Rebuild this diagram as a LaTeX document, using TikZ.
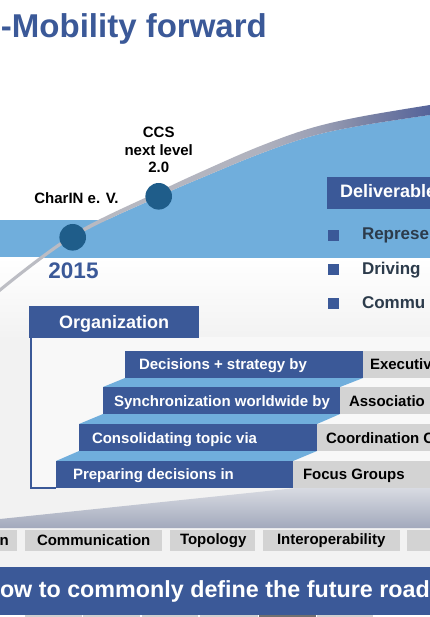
\documentclass[tikz,border=0pt]{standalone}
\usepackage{fontspec}
\setmainfont{Liberation Sans}
\definecolor{dblue}{HTML}{3B5998}
\definecolor{lblue}{HTML}{70AEDC}
\definecolor{dotblue}{HTML}{1F5D8A}
\definecolor{greybox}{HTML}{D3D3D3}
\definecolor{bggrey}{HTML}{F2F2F2}
\definecolor{framefill}{HTML}{F8F8F8}
\definecolor{slate}{HTML}{2C3B4B}
\definecolor{swA}{HTML}{BDBEC4}
\definecolor{swB}{HTML}{B0B2BE}
\definecolor{swC}{HTML}{9A9FB4}
\definecolor{swD}{HTML}{7E86A6}
\definecolor{swE}{HTML}{55639A}
\definecolor{wedgeA}{HTML}{EBECEF}
\definecolor{wedgeB}{HTML}{A2A9BC}
\definecolor{stripA}{HTML}{D0D0D0}
\definecolor{stripB}{HTML}{707070}
\pgfdeclarehorizontalshading{swoosh}{100bp}{color(0bp)=(swA); color(25bp)=(swA); color(55bp)=(swB); color(62bp)=(swC); color(67bp)=(swD); color(75bp)=(swE); color(100bp)=(swE)}
\begin{document}
\begin{tikzpicture}[x=1pt,y=-1pt,
  txt/.style={inner sep=0pt, outer sep=0pt, anchor=base west, font=\bfseries\fontsize{15}{18}\selectfont},
  wtxt/.style={txt, text=white},
  btxt/.style={txt, text=black},
  bigtxt/.style={txt, font=\bfseries\fontsize{17}{20}\selectfont},
  dotnode/.style={circle, fill=dotblue, inner sep=0pt, minimum size=26.6pt},
  bulletsq/.style={fill=dblue, inner sep=0pt, minimum size=11pt, anchor=center}]
\useasboundingbox (0,0) rectangle (430,617);
% background
\fill[white] (0,0) rectangle (430,257);
\shade[top color=white, bottom color=bggrey] (0,257) rectangle (430,340);
\fill[bggrey] (0,340) rectangle (430,567);
% light blue band and area under the curve
\fill[lblue] (0,220) rectangle (430,257);
\begin{scope}
\clip (0,0) rectangle (430,257);
\fill[lblue] plot[smooth, tension=0.6] coordinates {(0,292) (72.7,238) (158.7,196.5) (210,174.3) (260,153.8) (310,136.6) (360,125.8) (430,115)} -- (430,300) -- (0,300) -- cycle;
\end{scope}
% swoosh
\shade[shading=swoosh] plot[smooth, tension=0.6] coordinates {(0,288) (72.7,234) (158.7,191.5) (210,167.8) (260,146.2) (310,128.4) (360,116.8) (430,105)}
  -- plot[smooth, tension=0.6] coordinates {(430,115) (360,125.8) (310,136.6) (260,153.8) (210,174.3) (158.7,196.5) (72.7,238) (0,292)} -- cycle;
% title
\node[txt, text=dblue, font=\bfseries\fontsize{33}{38}\selectfont] (title) at (1,38) {-Mobility forward};
% milestones
\node[dotnode] (d1) at (72.7,237.3) {};
\node[dotnode] (d2) at (158.7,196.3) {};
\node[txt, anchor=base] (charin) at (76.5,204) {CharIN e. V.};
\node[txt, anchor=base] (ccs1) at (158.7,138) {CCS};
\node[txt, anchor=base] (ccs2) at (158.7,156) {next level};
\node[txt, anchor=base] (ccs3) at (158.7,173) {2.0};
\node[txt, anchor=base, text=dblue, font=\bfseries\fontsize{22.5}{26}\selectfont] (year) at (73.5,278) {2015};
% deliverables
\fill[dblue] (327,177) rectangle (431,209);
\node[bigtxt, text=white, font=\bfseries\fontsize{18}{20}\selectfont] (deliv) at (340,198) {Deliverable};
\node[bulletsq] (b1) at (333.5,235.5) {};
\node[bulletsq] (b2) at (333.5,269.5) {};
\node[bulletsq] (b3) at (333.5,303.5) {};
\node[bigtxt, text=slate] (t1) at (362,240) {Represe};
\node[bigtxt, text=slate] (t2) at (362,274) {Driving};
\node[bigtxt, text=slate] (t3) at (362,308) {Commu};
% wedge above tabs
\shade[top color=wedgeA, bottom color=wedgeB] (0,519) -- (430,474) -- (430,528) -- (0,528) -- cycle;
% organization frame
\fill[framefill] (31,337) rectangle (430,488);
\draw[dblue, line width=1.2pt] (31,337) -- (31,488) -- (56,488);
\fill[dblue] (29,306) rectangle (199,338);
\node[txt, text=white, font=\bfseries\fontsize{18}{20}\selectfont] (org) at (59,328) {Organization};
% steps
\fill[lblue] (125,378) -- (363,378) -- (340,387) -- (103,387) -- cycle;
\fill[lblue] (103,414) -- (340,414) -- (317,424) -- (79,424) -- cycle;
\fill[lblue] (79,451) -- (317,451) -- (293,461) -- (56,461) -- cycle;
\fill[dblue] (125,351) rectangle (363,378);
\fill[greybox] (363,351) rectangle (431,378);
\fill[dblue] (103,387) rectangle (340,414);
\fill[greybox] (340,387) rectangle (431,414);
\fill[dblue] (79,424) rectangle (317,451);
\fill[greybox] (317,424) rectangle (431,451);
\fill[dblue] (56,461) rectangle (293,488);
\fill[greybox] (293,461) rectangle (431,488);
\node[wtxt] (s1) at (139,369) {Decisions + strategy by};
\node[btxt] (g1) at (370,369) {Executiv};
\node[wtxt] (s2) at (114,406) {Synchronization worldwide by};
\node[btxt] (g2) at (349,406) {Associatio};
\node[wtxt] (s3) at (92,443) {Consolidating topic via};
\node[btxt] (g3) at (326,443) {Coordination C};
\node[wtxt] (s4) at (73,479) {Preparing decisions in};
\node[btxt] (g4) at (303,479) {Focus Groups};
% tabs
\fill[greybox] (-1,530) rectangle (17,551);
\fill[greybox] (25,530) rectangle (162,551);
\fill[greybox] (170,530) rectangle (255,551);
\fill[greybox] (263,530) rectangle (400,551);
\fill[greybox] (407,530) rectangle (431,551);
\node[btxt] (tab1) at (-0.5,545) {n};
\node[btxt] (tab2) at (37,545.5) {Communication};
\node[btxt] (tab3) at (180,544) {Topology};
\node[btxt] (tab4) at (277,544.5) {Interoperability};
% banner
\fill[dblue] (0,567) rectangle (430,615);
\node[txt, text=white, font=\bfseries\fontsize{23.3}{26}\selectfont] (banner) at (0,597) {ow to commonly define the future road};
% bottom strip
\fill[white] (0,615) rectangle (430,617);
\fill[stripA] (25,615) rectangle (82,617);
\fill[stripA] (83,615) rectangle (140,617);
\fill[stripA] (142,615) rectangle (198,617);
\fill[stripA] (200,615) rectangle (258,617);
\fill[stripB] (259,615) rectangle (316,617);
\fill[stripA] (317,615) rectangle (373,617);
\end{tikzpicture}
\end{document}
